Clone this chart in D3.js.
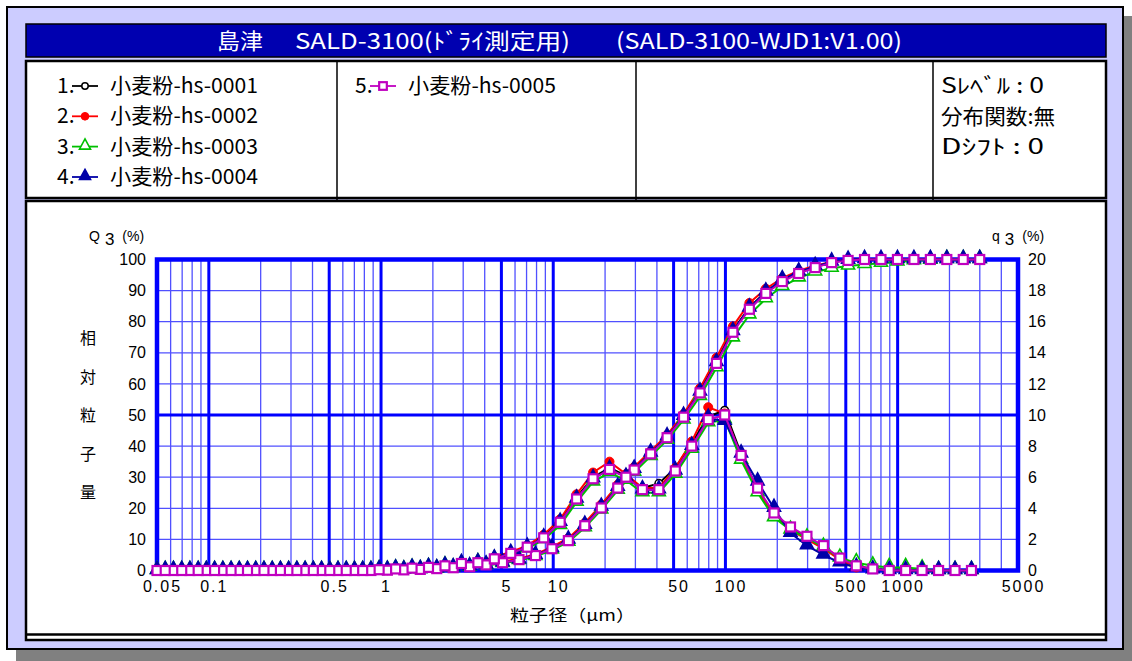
<!DOCTYPE html>
<html>
<head>
<meta charset="utf-8">
<title>SALD-3100</title>
<script src="https://d3js.org/d3.v7.min.js"></script>
<style>
  body { margin: 0; background: #fff; }
  svg text { font-family: "Liberation Sans", Arial, sans-serif; }
  .jp { font-family: "Liberation Sans Narrow", "Noto Sans CJK JP", sans-serif; }
  .cjk { font-family: "Noto Sans CJK JP", sans-serif; }
</style>
</head>
<body>
<div id="chart"></div>
<script>
// particle size classes (um): Q3 at the class edges, q3 at the class centres
const sizes = [0.0500, 0.0623, 0.0776, 0.0967, 0.1206, 0.1502, 0.1872, 0.2333, 0.2907, 0.3622,
  0.4514, 0.5624, 0.7009, 0.8733, 1.088, 1.356, 1.690, 2.106, 2.624, 3.270,
  4.074, 5.077, 6.326, 7.883, 9.823, 12.24, 15.25, 19.01, 23.69, 29.51,
  36.78, 45.83, 57.11, 71.16, 88.67, 110.5, 137.7, 171.6, 213.8, 266.4,
  332.0, 413.7, 515.5, 642.3, 800.4, 997.4, 1243, 1549, 1930, 2405, 2997];
const midSizes = [0.0558, 0.0696, 0.0867, 0.1080, 0.1346, 0.1677, 0.2090, 0.2604, 0.3245, 0.4043,
  0.5039, 0.6278, 0.7824, 0.9749, 1.215, 1.514, 1.886, 2.351, 2.929, 3.650,
  4.548, 5.667, 7.062, 8.800, 10.97, 13.66, 17.03, 21.22, 26.44, 32.95,
  41.05, 51.16, 63.75, 79.44, 98.98, 123.3, 153.7, 191.5, 238.7, 297.4,
  370.6, 461.8, 575.4, 717.0, 893.5, 1113, 1387, 1729, 2154, 2684];

const sampleNames = ["小麦粉-hs-0001", "小麦粉-hs-0002", "小麦粉-hs-0003", "小麦粉-hs-0004", "小麦粉-hs-0005"];

const xTickValues = [0.05, 0.1, 0.5, 1, 5, 10, 50, 100, 500, 1000, 5000];
const xTickLabels = ["0.05", "0.1", "0.5", "1", "5", "10", "50", "100", "500", "1000", "5000"];
const xMajor = [0.1, 0.5, 1, 5, 10, 50, 100, 500, 1000];
const xMinor = [0.06, 0.07, 0.08, 0.09, 0.2, 0.3, 0.4, 0.6, 0.7, 0.8, 0.9, 2, 3, 4, 6, 7, 8, 9,
  20, 30, 40, 60, 70, 80, 90, 200, 300, 400, 600, 700, 800, 900, 2000, 3000, 4000];
const yLeftTicks = [0, 10, 20, 30, 40, 50, 60, 70, 80, 90, 100];
const yRightTicks = [0, 2, 4, 6, 8, 10, 12, 14, 16, 18, 20];
const yMinor = [10, 20, 30, 40, 60, 70, 80, 90];

// cumulative Q3 (%) - left axis
const cum1 = [0, 0, 0, 0, 0, 0, 0, 0, 0, 0, 0, 0, 0, 0,
  0.1, 0.2, 0.4, 0.6, 0.9, 1.3, 1.9, 2.6, 3.6, 4.9,
  7.2, 9.9, 14.8, 20.6, 27.0, 32.8, 37.9, 43.2, 49.9, 57.8,
  67.3, 77.2, 84.6, 89.6, 93.3, 95.8, 97.6, 99.1, 99.8,
  100, 100, 100, 100, 100, 100, 100, 100];
const cum2 = [0, 0, 0, 0, 0, 0, 0, 0, 0, 0, 0, 0, 0, 0,
  0.1, 0.2, 0.4, 0.7, 1.0, 1.4, 2.0, 2.8, 3.8, 5.2,
  7.6, 10.4, 15.3, 21.2, 27.6, 33.3, 38.4, 43.6, 50.3, 58.6,
  68.4, 78.5, 86.0, 90.6, 94.0, 96.4, 98.0, 99.3, 99.8,
  100, 100, 100, 100, 100, 100, 100, 100];
const cum3 = [0, 0, 0, 0, 0, 0, 0, 0, 0, 0, 0, 0, 0, 0,
  0.1, 0.2, 0.3, 0.5, 0.8, 1.1, 1.6, 2.3, 3.2, 4.5,
  6.6, 9.1, 13.8, 19.5, 25.8, 31.6, 36.7, 41.9, 48.4, 56.0,
  65.2, 74.8, 82.2, 87.4, 91.3, 94.1, 96.0, 97.2, 97.9,
  98.4, 98.8, 99.2, 99.6, 99.8, 100, 100, 100];
const cum4 = [0, 0, 0, 0, 0, 0, 0, 0, 0, 0, 0, 0, 0, 0,
  0.1, 0.2, 0.35, 0.6, 0.9, 1.2, 1.8, 2.5, 3.5, 4.9,
  7.1, 9.8, 14.6, 20.4, 26.8, 32.6, 37.8, 43.0, 49.6, 57.4,
  66.9, 76.9, 84.4, 89.6, 93.5, 96.0, 97.8, 99.2, 99.8,
  100, 100, 100, 100, 100, 100, 100, 100];
const cum5 = [0, 0, 0, 0, 0, 0, 0, 0, 0, 0, 0, 0, 0, 0,
  0.1, 0.2, 0.35, 0.6, 0.9, 1.2, 1.8, 2.5, 3.5, 4.8,
  7.0, 9.6, 14.4, 20.1, 26.5, 32.3, 37.5, 42.7, 49.3, 57.1,
  66.6, 76.6, 84.0, 89.1, 92.9, 95.5, 97.4, 99.0, 99.7,
  100, 100, 100, 100, 100, 100, 100, 100];

// frequency q3 (%) - right axis
const freq1 = [0, 0, 0, 0, 0, 0, 0, 0, 0, 0, 0, 0, 0,
  0.05, 0.1, 0.15, 0.2, 0.3, 0.45, 0.55, 0.8, 1.1, 1.5,
  2.2, 3.2, 4.7, 6.0, 6.6, 6.1, 5.3, 5.6, 6.6, 8.2,
  9.9, 10.3, 7.5, 5.2, 3.6, 2.7, 2.1, 1.5, 0.8, 0.3,
  0.1, 0, 0, 0, 0, 0, 0];
const freq2 = [0, 0, 0, 0, 0, 0, 0, 0, 0, 0, 0, 0, 0,
  0.05, 0.1, 0.15, 0.2, 0.3, 0.5, 0.6, 0.85, 1.2, 1.6,
  2.3, 3.3, 4.9, 6.3, 7.0, 6.2, 5.3, 5.3, 6.6, 8.3,
  10.5, 10.1, 7.3, 5.2, 3.6, 2.6, 2.0, 1.4, 0.7, 0.2,
  0.1, 0, 0, 0, 0, 0, 0];
const freq3 = [0, 0, 0, 0, 0, 0, 0, 0, 0, 0, 0, 0, 0,
  0.05, 0.1, 0.15, 0.2, 0.3, 0.4, 0.5, 0.7, 1.0, 1.4,
  2.0, 2.9, 4.4, 5.7, 6.3, 5.8, 5.0, 5.0, 6.2, 7.8,
  9.5, 9.7, 7.1, 5.0, 3.4, 2.6, 2.1, 1.5, 0.8, 0.5,
  0.3, 0.2, 0.2, 0.1, 0, 0, 0];
const freq4 = [0, 0, 0, 0, 0, 0, 0, 0, 0, 0, 0, 0, 0,
  0.05, 0.1, 0.15, 0.2, 0.3, 0.45, 0.5, 0.75, 1.1, 1.5,
  2.1, 3.1, 4.6, 5.9, 6.5, 6.0, 5.2, 5.2, 6.4, 8.0,
  9.8, 9.6, 7.5, 5.7, 4.0, 2.4, 1.6, 1.0, 0.5, 0.2,
  0.05, 0, 0, 0, 0, 0, 0];
const freq5 = [0, 0, 0, 0, 0, 0, 0, 0, 0, 0, 0, 0, 0,
  0.05, 0.1, 0.15, 0.2, 0.3, 0.45, 0.5, 0.75, 1.1, 1.5,
  2.1, 3.1, 4.6, 5.9, 6.5, 6.0, 5.2, 5.2, 6.4, 8.0,
  9.7, 10.0, 7.4, 5.3, 3.7, 2.8, 2.2, 1.6, 0.8, 0.3,
  0.1, 0, 0, 0, 0, 0, 0];

const series = [
  { num: "1.", name: sampleNames[0], cum: cum1, freq: freq1, color: "#000000", marker: "openCircle" },
  { num: "2.", name: sampleNames[1], cum: cum2, freq: freq2, color: "#ff0000", marker: "dot" },
  { num: "3.", name: sampleNames[2], cum: cum3, freq: freq3, color: "#00c000", marker: "openTri" },
  { num: "4.", name: sampleNames[3], cum: cum4, freq: freq4, color: "#0000a8", marker: "tri" },
  { num: "5.", name: sampleNames[4], cum: cum5, freq: freq5, color: "#c000c0", marker: "square" }
];

const svg = d3.select("#chart").append("svg")
    .attr("width", 1132)
    .attr("height", 661);

// window frame with shadow
svg.append("rect").attr("x", 16).attr("y", 16).attr("width", 1116).attr("height", 645).attr("fill", "#808080");
svg.append("rect").attr("x", 7).attr("y", 7).attr("width", 1116).attr("height", 642)
    .attr("fill", "#ccccff").attr("stroke", "#000").attr("stroke-width", 2);

// title bar
svg.append("rect").attr("x", 26).attr("y", 24).attr("width", 1080).attr("height", 33)
    .attr("fill", "#0000b0").attr("stroke", "#000").attr("stroke-width", 1.5);
const titleParts = [
  { t: "島津", x: 217, len: 46 },
  { t: "SALD-3100(ﾄﾞﾗｲ測定用)", x: 295, len: 275 },
  { t: "(SALD-3100-WJD1:V1.00)", x: 616, len: 286 }
];
svg.selectAll(".title").data(titleParts).enter().append("text")
    .attr("class", "title jp")
    .attr("x", d => d.x).attr("y", 49)
    .attr("textLength", d => d.len).attr("lengthAdjust", "spacingAndGlyphs")
    .attr("fill", "#fff").attr("font-size", 22)
    .text(d => d.t);

// legend box
svg.append("rect").attr("x", 26).attr("y", 61).attr("width", 1080).attr("height", 137)
    .attr("fill", "#fff").attr("stroke", "#000").attr("stroke-width", 2.5);
[337, 636, 933].forEach(xx => {
  svg.append("line").attr("x1", xx).attr("x2", xx).attr("y1", 61).attr("y2", 201)
      .attr("stroke", "#000").attr("stroke-width", 1.5);
});

// chart box
svg.append("rect").attr("x", 26).attr("y", 201).attr("width", 1080).attr("height", 439)
    .attr("fill", "#fff").attr("stroke", "#000").attr("stroke-width", 2.5);
svg.append("line").attr("x1", 26).attr("x2", 1106).attr("y1", 634.5).attr("y2", 634.5)
    .attr("stroke", "#000").attr("stroke-width", 2.5);

function markerPath(g, type, color, px, py, s) {
  s = s || 1;
  if (type === "openCircle") {
    g.append("circle").attr("cx", px).attr("cy", py).attr("r", 3.8 * s)
        .attr("fill", "#fff").attr("stroke", color).attr("stroke-width", 1.5);
  } else if (type === "dot") {
    g.append("circle").attr("cx", px).attr("cy", py).attr("r", 4.5 * s)
        .attr("fill", color).attr("stroke", color).attr("stroke-width", 1);
  } else if (type === "openTri" || type === "tri") {
    g.append("path")
        .attr("d", `M${px},${py - 9 * s}L${px + 6.5 * s},${py + 3 * s}L${px - 6.5 * s},${py + 3 * s}Z`)
        .attr("fill", type === "tri" ? color : "#fff")
        .attr("stroke", color).attr("stroke-width", 1.6);
  } else {
    g.append("rect").attr("x", px - 4.5 * s).attr("y", py - 4.5 * s)
        .attr("width", 9 * s).attr("height", 9 * s)
        .attr("fill", "#fff").attr("stroke", color).attr("stroke-width", 2.2);
  }
}

// legend entries
const legendPos = [
  { x: 57, y: 85 }, { x: 57, y: 115.3 }, { x: 57, y: 145.6 }, { x: 57, y: 176 }, { x: 355, y: 85 }
];
series.forEach((s, i) => {
  const p = legendPos[i];
  const lg = svg.append("g");
  lg.append("text").attr("class", "jp").attr("x", p.x).attr("y", p.y + 8)
      .attr("font-size", 21).attr("fill", "#000").text(s.num);
  lg.append("line").attr("x1", p.x + 15).attr("x2", p.x + 41).attr("y1", p.y + 1).attr("y2", p.y + 1)
      .attr("stroke", s.color).attr("stroke-width", 1.8);
  markerPath(lg, s.marker, s.color, p.x + 28, p.y + 1, 0.85);
  lg.append("text").attr("class", "jp").attr("x", p.x + 53).attr("y", p.y + 8)
      .attr("font-size", 21).attr("fill", "#000")
      .attr("textLength", 148).attr("lengthAdjust", "spacingAndGlyphs")
      .text(s.name);
});

const infoLines = [
  { t: "Sﾚﾍﾞﾙ : 0", len: 103 },
  { t: "分布関数:無", len: 114 },
  { t: "Dｼﾌﾄ   : 0", len: 103 }
];
infoLines.forEach((d, i) => {
  svg.append("text").attr("class", "jp").attr("x", 941).attr("y", 93 + i * 30.5)
      .attr("font-size", 21).attr("fill", "#000")
      .attr("textLength", d.len).attr("lengthAdjust", "spacingAndGlyphs")
      .text(d.t);
});

// plot
const x = d3.scaleLog().domain([0.05, 5000]).range([157, 1018]);
const yL = d3.scaleLinear().domain([0, 100]).range([570.5, 259.5]);
const yR = d3.scaleLinear().domain([0, 20]).range([570.5, 259.5]);

const grid = svg.append("g");
grid.selectAll(".vminor").data(xMinor).enter().append("line")
    .attr("x1", d => x(d)).attr("x2", d => x(d)).attr("y1", yL(100)).attr("y2", yL(0))
    .attr("stroke", "#5050ff").attr("stroke-width", 1.3);
grid.selectAll(".hminor").data(yMinor).enter().append("line")
    .attr("x1", x(0.05)).attr("x2", x(5000)).attr("y1", d => yL(d)).attr("y2", d => yL(d))
    .attr("stroke", "#5050ff").attr("stroke-width", 1.3);
grid.selectAll(".vmajor").data(xMajor).enter().append("line")
    .attr("x1", d => x(d)).attr("x2", d => x(d)).attr("y1", yL(100)).attr("y2", yL(0))
    .attr("stroke", "#0000ff").attr("stroke-width", 3);
grid.append("line").attr("x1", x(0.05)).attr("x2", x(5000)).attr("y1", yL(50)).attr("y2", yL(50))
    .attr("stroke", "#0000ff").attr("stroke-width", 3);
grid.append("rect").attr("x", x(0.05)).attr("y", yL(100))
    .attr("width", x(5000) - x(0.05)).attr("height", yL(0) - yL(100))
    .attr("fill", "none").attr("stroke", "#0000ff").attr("stroke-width", 4.5);

// axes
const axL = svg.append("g").attr("transform", `translate(${x(0.05)},0)`)
    .call(d3.axisLeft(yL).tickValues(yLeftTicks).tickSize(0).tickPadding(11));
const axR = svg.append("g").attr("transform", `translate(${x(5000)},0)`)
    .call(d3.axisRight(yR).tickValues(yRightTicks).tickSize(0).tickPadding(10));
const axB = svg.append("g").attr("transform", `translate(0,${yL(0)})`)
    .call(d3.axisBottom(x).tickValues(xTickValues).tickFormat((d, i) => xTickLabels[i]).tickSize(0).tickPadding(10));
[axL, axR, axB].forEach(a => {
  a.select(".domain").remove();
  a.selectAll("text").attr("font-size", 16).attr("fill", "#000")
      .attr("font-family", "'Liberation Sans', Arial, sans-serif");
});
axB.selectAll("text").attr("letter-spacing", 2).attr("dx", 5);

// axis titles
function unitTitle(x0, letter) {
  const t = svg.append("text").attr("x", x0).attr("y", 241).attr("fill", "#000");
  t.append("tspan").attr("font-size", 14).text(letter);
  t.append("tspan").attr("dx", 5).attr("dy", 4).attr("font-size", 17).text("3");
  t.append("tspan").attr("dx", 8).attr("dy", -4).attr("font-size", 14).text("(%)");
}
unitTitle(89, "Q");
unitTitle(992, "q");

const yTitle = ["相", "対", "粒", "子", "量"];
yTitle.forEach((c, i) => {
  svg.append("text").attr("class", "cjk").attr("x", 88).attr("y", 344 + i * 38.5)
      .attr("text-anchor", "middle").attr("font-size", 16).attr("fill", "#000").text(c);
});
svg.append("text").attr("class", "cjk").attr("x", 510).attr("y", 621)
    .attr("font-size", 16).attr("fill", "#000")
    .attr("textLength", 125).attr("lengthAdjust", "spacingAndGlyphs")
    .text("粒子径（μm）");

// data
const cumLine = d3.line().x(d => x(d[0])).y(d => yL(d[1]));
const freqLine = d3.line().x(d => x(d[0])).y(d => yR(d[1]));
series.forEach(s => {
  const g = svg.append("g");
  const cumPts = sizes.map((v, i) => [v, s.cum[i]]);
  const freqPts = midSizes.map((v, i) => [v, s.freq[i]]);
  g.append("path").datum(cumPts).attr("d", cumLine)
      .attr("fill", "none").attr("stroke", s.color).attr("stroke-width", 2);
  g.append("path").datum(freqPts).attr("d", freqLine)
      .attr("fill", "none").attr("stroke", s.color).attr("stroke-width", 2);
  cumPts.forEach(d => markerPath(g, s.marker, s.color, x(d[0]), yL(d[1])));
  freqPts.forEach(d => markerPath(g, s.marker, s.color, x(d[0]), yR(d[1])));
});
</script>
</body>
</html>
